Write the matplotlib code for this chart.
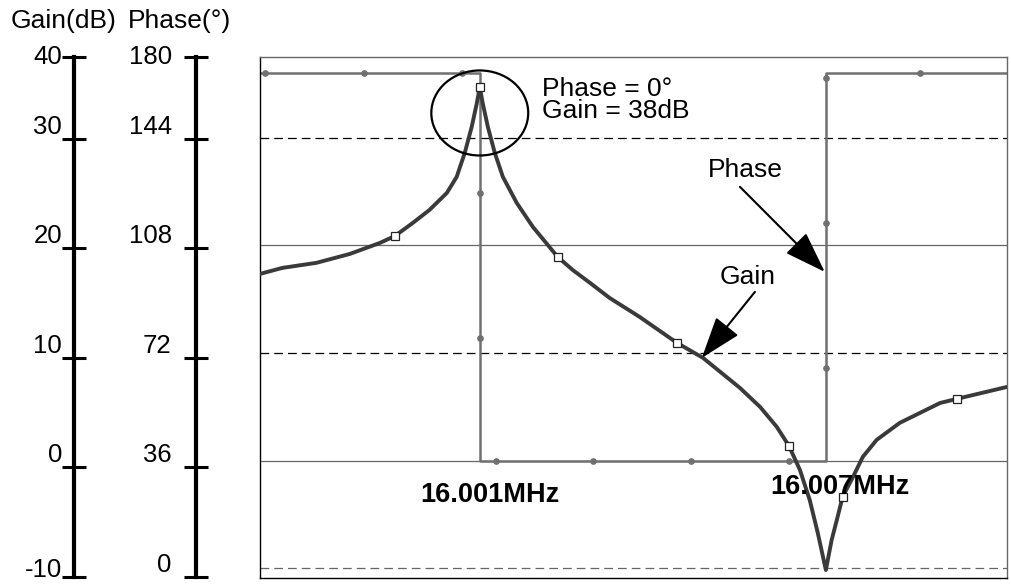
import matplotlib
matplotlib.use("Agg")
import matplotlib.pyplot as plt
from matplotlib.patches import Ellipse

plt.rcParams["font.family"] = ["Liberation Sans", "DejaVu Sans"]

# -------------------------------
# Data
# -------------------------------

# frequency in MHz, gain in dB
freq = [15.99719, 15.99758, 15.99817, 15.99875, 15.99927, 15.99953, 15.99984,
        16.00013, 16.00043, 16.00060, 16.00074, 16.00086, 16.00095, 16.00100,
        16.00105, 16.00114, 16.00126, 16.00140, 16.00164, 16.00192, 16.00235,
        16.00261, 16.00291, 16.00325, 16.00377, 16.00442, 16.00487, 16.00551,
        16.00586, 16.00615, 16.00636, 16.00655, 16.00672, 16.00686, 16.00700,
        16.00710, 16.00719, 16.00729, 16.00747, 16.00764, 16.00788, 16.00828,
        16.00898, 16.00927, 16.01014]
gain = [17.35, 17.91, 18.38, 19.21, 20.23, 20.88, 22.09,
        23.30, 24.88, 26.37, 28.60, 31.01, 33.24, 34.73,
        33.24, 31.01, 28.60, 26.37, 23.95, 21.72, 18.93,
        17.72, 16.52, 15.12, 13.36, 10.94, 9.55, 6.76,
        4.99, 3.13, 1.37, -0.86, -3.65, -6.72, -10.16,
        -7.37, -5.51, -3.37, -1.51, 0.35, 1.93, 3.51,
        5.36, 5.74, 6.85]
gain_marks = [5, 13, 20, 25, 30, 37, 43]

# phase in degrees (step response)
phase_freq = [15.99719, 16.00100, 16.00100, 16.00700, 16.00700, 16.01014]
phase = [165.7, 165.7, 36.0, 36.0, 165.7, 165.7]
phase_dot_freq = [15.99727, 15.99899, 16.00069, 16.00100, 16.00100, 16.00128,
                  16.00296, 16.00466, 16.00636, 16.00700, 16.00700, 16.00700,
                  16.00863]
phase_dot = [165.7, 165.7, 165.7, 125.6, 77.0, 36.0,
             36.0, 36.0, 36.0, 66.9, 115.5, 164.1,
             165.7]

gain_ticks = [0, 10, 20, 30]
gain_labels = ["-10", "0", "10", "20", "30", "40"]
phase_ticks = [36, 72, 108, 144]
phase_labels = ["0", "36", "72", "108", "144", "180"]

# -------------------------------
# Layout
# -------------------------------

W, H = 1011, 584
fig = plt.figure(figsize=(W / 100, H / 100), dpi=100)

gain_lim = (-10.9, 37.5)
phase_lim = (3.6 * (gain_lim[0] + 10), 3.6 * (gain_lim[1] + 10))
xlim = (15.99719, 16.01014)

ax = fig.add_axes([260 / W, 1 - 578 / H, (1007 - 260) / W, (578 - 57) / H])
ax.set_xlim(xlim)
ax.set_ylim(phase_lim)
ax.set_xticks([])
ax.set_yticks([])
for side in ["left", "bottom"]:
    ax.spines[side].set_color("black")
    ax.spines[side].set_linewidth(1.0)
for side in ["top", "right"]:
    ax.spines[side].set_color("#666666")
    ax.spines[side].set_linewidth(1.0)

# grid lines in phase units
grid_levels = [144, 108, 72, 36, 0]
grid_styles = ["dash", "solid", "dash", "solid", "dash"]
grid_colors = ["black", "#666666", "black", "#666666", "#666666"]
for lev, st, c in zip(grid_levels, grid_styles, grid_colors):
    ls = (0, (7, 4)) if st == "dash" else "-"
    ax.axhline(lev, color=c, lw=0.9, ls=ls, zorder=1)

# phase line
ax.plot(phase_freq, phase, color="#707070", lw=1.8, zorder=2)
ax.plot(phase_dot_freq, phase_dot, ls="none", marker="o", ms=3.8,
        color="#707070", zorder=2)

# gain on twin axes
axg = ax.twinx()
axg.set_ylim(gain_lim)
axg.set_xlim(xlim)
axg.axis("off")
axg.plot(freq, gain, color="#3a3a3a", lw=2.8, zorder=3,
         solid_joinstyle="round",
         marker="s", markevery=gain_marks, ms=6, mfc="white",
         mec="#222222", mew=0.9)

axg.add_patch(Ellipse((16.00100, 32.3), 0.00168, 7.9, fill=False,
                      ec="black", lw=1.6, zorder=4))
axg.text(16.00208, 33.5, "Phase = 0°\nGain = 38dB", fontsize=19,
         ha="left", va="center", linespacing=0.92)

arrow = dict(arrowstyle="-|>,head_length=1.3,head_width=0.45",
             mutation_scale=20, color="black", lw=1.5, shrinkA=0, shrinkB=0)
axg.text(16.00560, 27.0, "Phase", fontsize=19, ha="center", va="center")
axg.annotate("", xy=(16.00698, 17.54), xytext=(16.00551, 25.44),
             arrowprops=arrow)
axg.text(16.00565, 17.07, "Gain", fontsize=19, ha="center", va="center")
axg.annotate("", xy=(16.00485, 9.55), xytext=(16.00577, 15.68),
             arrowprops=arrow)

axg.text(16.00117, -3.19, "16.001MHz", fontsize=19.5, fontweight="bold",
         ha="center", va="center")
axg.text(16.00724, -2.44, "16.007MHz", fontsize=19.5, fontweight="bold",
         ha="center", va="center")

# -------------------------------
# Left scale bars
# -------------------------------

def scale_axis(xpix, lim, mids, labels, pad, bottom_va):
    a = fig.add_axes([xpix / W, 1 - 577 / H, 0.0001, (577 - 57) / H])
    a.set_ylim(lim)
    a.set_xticks([])
    for side in ["top", "right", "bottom"]:
        a.spines[side].set_visible(False)
    a.spines["left"].set_linewidth(3)
    a.set_yticks([lim[0]] + mids + [lim[1]])
    a.set_yticklabels(labels, fontsize=18.5)
    a.tick_params(axis="y", direction="inout", length=17, width=2.2, pad=pad)
    lbls = a.get_yticklabels()
    for lbl in lbls:
        lbl.set_va("bottom")
    lbls[0].set_va(bottom_va)
    lbls[-1].set_va("center")
    a.patch.set_alpha(0)
    return a

scale_axis(74, (-10.05, 37.5), gain_ticks, gain_labels, 0, "baseline")
scale_axis(196, (3.6 * (-10.05 + 10), 3.6 * 47.5), phase_ticks, phase_labels,
           9, "bottom")

fig.text(64 / W, 1 - 21 / H, "Gain(dB)", fontsize=19, ha="center", va="center")
fig.text(180 / W, 1 - 21 / H, "Phase(°)", fontsize=19, ha="center", va="center")

fig.savefig("out.png", dpi=100)
